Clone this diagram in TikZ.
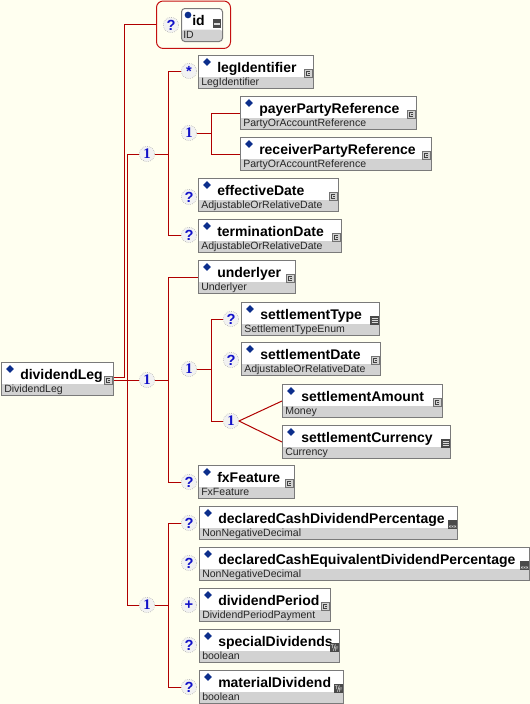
\documentclass[tikz,border=0pt]{standalone}
\usepackage{fontspec}
\setmainfont{Liberation Sans}
\newfontfamily\cardserif{Liberation Serif}
\usetikzlibrary{positioning,shapes.geometric,calc}
\definecolor{bgcream}{HTML}{FFFFF0}
\definecolor{linkred}{HTML}{B00000}
\definecolor{grpred}{HTML}{C41010}
\definecolor{boxgray}{HTML}{7A7A7A}
\definecolor{bandgray}{HTML}{D2D2D2}
\definecolor{diamblue}{HTML}{0C2E8C}
\definecolor{cardblue}{HTML}{1010C8}
\definecolor{icondark}{HTML}{4A4A4A}

\tikzset{
  icocx/.pic={\draw[fill=bandgray, draw=black!55, line width=0.4pt] (0,0) rectangle (8,8);
    \draw[black!75, line width=0.5pt] (5.8,2.2) -- (2.6,2.2) -- (2.6,6) -- (5.8,6) (4,3.9) -- (6,3.9);},
  icoen/.pic={\fill[icondark] (0,0) rectangle (9,9);
    \draw[white!85!black, line width=0.6pt] (1.5,2.5) -- (7.5,2.5) (1.5,4.5) -- (7.5,4.5) (1.5,6.5) -- (7.5,6.5);},
  icodc/.pic={\fill[icondark] (0,0) rectangle (9,9);
    \foreach \i in {1.8,4.5,7.2}
      \draw[white!80!black, line width=0.35pt] (\i-0.9,5.6) -- (\i+0.9,7.4) (\i-0.9,7.4) -- (\i+0.9,5.6);},
  icobo/.pic={\fill[icondark] (0,0) rectangle (9,9);
    \draw[white!85!black, line width=0.45pt] (0.9,1.6) -- (3.7,1.6) (2.3,1.6) -- (2.3,5)
      (3.4,7.6) -- (5.4,1.4) (5.6,4) -- (5.6,7.8) (5.6,4) -- (8.1,4) (5.6,5.8) -- (7.6,5.8);},
  icoid/.pic={\fill[icondark] (0,0) rectangle (8,9);
    \fill[white!85!black] (1,3.6) rectangle (7,5.6);}
}

\newcommand{\xelem}[7]{%
  \node[elbox, minimum width={(#4-#2)*0.75pt}] (#1) at (#2,#3) {};
  \node[diam] (#1-d) at ([xshift=6.75pt, yshift=-5.25pt]#1.north west) {};
  \node[elname] (#1-n) at ([xshift=14.25pt, yshift=-12.75pt]#1.north west) {#5};
  \node[eltype] (#1-t) at ([xshift=2.25pt, yshift=-22.5pt]#1.north west) {#6};
  \pic at ([xshift=-7.5pt, yshift=-10.5pt]#1.north east) {#7};
}

\begin{document}
\begin{tikzpicture}[
  x=0.75pt, y=-0.75pt,
  elbox/.style={rectangle, draw=boxgray, line width=0.75pt, fill=white, anchor=north west,
    minimum height=24.75pt, inner sep=0pt,
    path picture={\fill[bandgray] ([yshift=9pt]path picture bounding box.south west) rectangle (path picture bounding box.south east);}},
  idbox/.style={elbox, rounded corners=2.5pt},
  grpbox/.style={rectangle, rounded corners=5pt, draw=grpred, line width=0.75pt, anchor=north west, inner sep=0pt},
  diam/.style={diamond, fill=diamblue, inner sep=0pt, minimum width=6pt, minimum height=6pt},
  idot/.style={circle, fill=diamblue, inner sep=0pt, minimum size=5pt},
  elname/.style={anchor=base west, inner sep=0pt, font=\fontsize{10.5}{12}\selectfont\bfseries},
  eltype/.style={anchor=base west, inner sep=0pt, font=\fontsize{7.9}{9}\selectfont, text=black!85},
  card/.style={circle, draw=gray!75, densely dotted, fill=white!90!gray, minimum size=11.5pt, inner sep=0pt,
    text=cardblue, font=\fontsize{11}{11}\selectfont\bfseries},
  conn/.style={draw=linkred, line width=0.75pt}
]
\fill[bgcream] (0,0) rectangle (530,704);
\useasboundingbox (0,0) rectangle (530,704);

% elements
\xelem{root}{1}{362}{113}{dividendLeg}{DividendLeg}{icocx}
\xelem{legid}{198}{55}{313}{legIdentifier}{LegIdentifier}{icocx}
\xelem{payer}{240}{96}{416}{payerPartyReference}{PartyOrAccountReference}{icocx}
\xelem{recv}{240}{137}{431}{receiverPartyReference}{PartyOrAccountReference}{icocx}
\xelem{eff}{198}{178}{338}{effectiveDate}{AdjustableOrRelativeDate}{icocx}
\xelem{term}{198}{219}{341}{terminationDate}{AdjustableOrRelativeDate}{icocx}
\xelem{und}{198}{260}{295}{underlyer}{Underlyer}{icocx}
\xelem{stype}{241}{302}{379}{settlementType}{SettlementTypeEnum}{icoen}
\xelem{sdate}{241}{342}{380}{settlementDate}{AdjustableOrRelativeDate}{icocx}
\xelem{samt}{282}{384}{442}{settlementAmount}{Money}{icocx}
\xelem{scur}{282}{425}{450}{settlementCurrency}{Currency}{icoen}
\xelem{fx}{198}{465}{294}{fxFeature}{FxFeature}{icocx}
\xelem{dcp}{199}{506}{457}{declaredCashDividendPercentage}{NonNegativeDecimal}{icodc}
\xelem{dcep}{199}{547}{529}{declaredCashEquivalentDividendPercentage}{NonNegativeDecimal}{icodc}
\xelem{dp}{199}{588}{330}{dividendPeriod}{DividendPeriodPayment}{icocx}
\xelem{sd}{199}{629}{339}{specialDividends}{boolean}{icobo}
\xelem{md}{199}{670}{343}{materialDividend}{boolean}{icobo}

% attribute group
\node[grpbox, minimum width=55.5pt, minimum height=35.6pt] (idgrp) at (156,0.5) {};
\node[idbox, minimum width=30.75pt] (id) at (181,8) {};
\node[idot] (id-d) at (188,15) {};
\node[elname] (id-n) at (192,25) {id};
\node[eltype] (id-t) at (183,38) {ID};
\pic at (213,19) {icoid};

% cardinality circles
\node[card] (cid) at (171,25) {?};
\node[card] (seq1) at (147,154) {\cardserif 1};
\node[card] (cleg) at (189,71) {*};
\node[card] (cpr) at (189,133) {\cardserif 1};
\node[card] (ceff) at (189,197) {?};
\node[card] (cterm) at (189,235) {?};
\node[card] (seq2) at (147,380) {\cardserif 1};
\node[card] (cset) at (189,369) {\cardserif 1};
\node[card] (cstype) at (231,319) {?};
\node[card] (csdate) at (231,360) {?};
\node[card] (camt) at (231,421) {\cardserif 1};
\node[card] (cfx) at (189,482) {?};
\node[card] (seq3) at (147,605) {\cardserif 1};
\node[card] (cdcp) at (189,523) {?};
\node[card] (cdcep) at (189,563) {?};
\node[card] (cdp) at (189,605) {+};
\node[card] (csd) at (189,645) {?};
\node[card] (cmd) at (189,687) {?};

% connectors
\coordinate (busa) at (124.5,0);
\coordinate (busb) at (127,0);
\coordinate (bus1) at (168,0);
\coordinate (bus2) at (211,0);
\coordinate (roota) at ([yshift=1.3pt]root.east);
\coordinate (rootb) at ([yshift=-0.8pt]root.east);
\draw[conn] (idgrp.west) -- (idgrp.west -| busa) -- (roota -| busa) -- (roota);
\draw[conn] (rootb) -- (rootb -| busb);
\draw[conn] (seq1.west -| busb) -- (seq3.west -| busb);
\draw[conn] (seq1.west -| busb) -- (seq1.west);
\draw[conn] (seq2.west -| busb) -- (seq2.west);
\draw[conn] (seq3.west -| busb) -- (seq3.west);
% first sequence
\draw[conn] (seq1.east) -- (seq1.east -| bus1);
\draw[conn] (cleg.west -| bus1) -- (cterm.west -| bus1);
\draw[conn] (cleg.west -| bus1) -- (cleg.west);
\draw[conn] (cterm.west -| bus1) -- (cterm.west);
\draw[conn] (cpr.east) -- (cpr.east -| bus2);
\draw[conn] (payer.west -| bus2) -- (recv.west -| bus2);
\draw[conn] (payer.west -| bus2) -- (payer.west);
\draw[conn] (recv.west -| bus2) -- (recv.west);
% second sequence
\draw[conn] (seq2.east) -- (seq2.east -| bus1);
\draw[conn] (und.west -| bus1) -- (cfx.west -| bus1);
\draw[conn] (und.west -| bus1) -- (und.west);
\draw[conn] (cfx.west -| bus1) -- (cfx.west);
\draw[conn] (cset.east) -- (cset.east -| bus2);
\draw[conn] (cstype.west -| bus2) -- (camt.west -| bus2);
\draw[conn] (cstype.west -| bus2) -- (cstype.west);
\draw[conn] (camt.west -| bus2) -- (camt.west);
\draw[conn] (camt.east) -- (samt.west);
\draw[conn] (camt.east) -- (scur.west);
% third sequence
\draw[conn] (seq3.east) -- (seq3.east -| bus1);
\draw[conn] (cdcp.west -| bus1) -- (cmd.west -| bus1);
\draw[conn] (cdcp.west -| bus1) -- (cdcp.west);
\draw[conn] (cmd.west -| bus1) -- (cmd.west);
\end{tikzpicture}
\end{document}
